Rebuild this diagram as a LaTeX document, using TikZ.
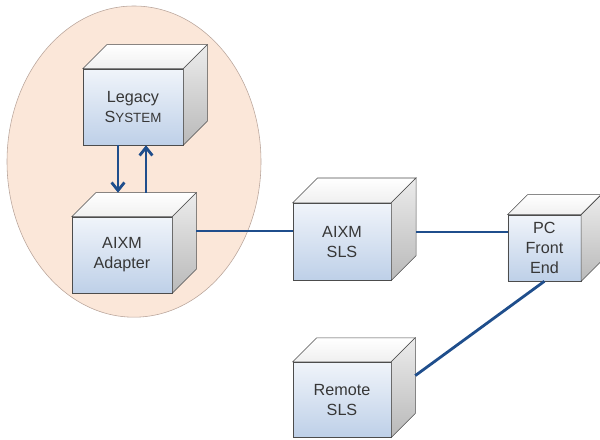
\documentclass[tikz,border=0pt]{standalone}
\usepackage{fontspec}
\setmainfont{Liberation Sans}
\usepackage{tikz}
\usetikzlibrary{arrows.meta}
\definecolor{linkblue}{RGB}{31,78,140}
\definecolor{peach}{RGB}{251,231,217}
\definecolor{rimbrown}{RGB}{185,165,155}
\definecolor{facetop}{RGB}{240,244,250}
\definecolor{facebot}{RGB}{190,208,232}
\definecolor{labelgray}{RGB}{55,55,55}

\begin{document}
\begin{tikzpicture}[
  >={Straight Barb[length=2mm, width=3.2mm]},
  cube/.style={rectangle, draw=black!70, thin, top color=facetop, bottom color=facebot,
    minimum width=2.5cm, minimum height=1.9cm, inner sep=0pt, align=center,
    text=labelgray, font=\fontsize{11.5}{14.2}\selectfont},
  topface/.style={draw=black!70, thin, top color=white, bottom color=gray!12},
  sideface/.style={draw=black!70, thin, top color=gray!15, bottom color=gray!55},
  link/.style={draw=linkblue, line width=2pt},
  flow/.style={link, ->}
]
\useasboundingbox (0,0) rectangle (15,11);

% legacy side sits inside the shaded oval
\draw[fill=peach, draw=rimbrown] (3.35,6.96) ellipse [x radius=3.175, y radius=3.89];

\node[cube] (legacy) at (3.325,8.325) {Legacy\\S{\fontsize{9.5}{14.2}\selectfont YSTEM}};
\node[cube] (adapter) at (3.05,4.625) {AIXM\\Adapter};
\node[cube, minimum width=2.45cm, minimum height=1.925cm] (sls) at (8.55,4.96) {AIXM\\SLS};
\node[cube, minimum width=1.825cm, minimum height=1.65cm] (pc) at (13.61,4.8) {PC\\Front\\End};
\node[cube, minimum width=2.45cm, minimum height=1.875cm] (remote) at (8.55,1.01) {Remote\\SLS};

% top and side faces of each box
\foreach \n/\dep in {legacy/0.6, adapter/0.6, sls/0.62, pc/0.5, remote/0.6} {
  \draw[topface] (\n.north west) -- ++(\dep,\dep) -- ([shift={(\dep,\dep)}]\n.north east)
    -- (\n.north east) -- cycle;
  \draw[sideface] (\n.north east) -- ++(\dep,\dep) -- ([shift={(\dep,\dep)}]\n.south east)
    -- (\n.south east) -- cycle;
  \coordinate (\n-rim) at ([shift={(\dep,\dep)}]\n.north);
  \coordinate (\n-side) at ([shift={(\dep,\dep)}]\n.east);
}

\coordinate (req) at ([xshift=-0.375cm]legacy.south);
\coordinate (resp) at ([xshift=0.325cm]legacy.south);
\coordinate (sls-out) at ([xshift=0.62cm, yshift=0.24cm]sls.east);

\draw[flow] (req) -- (req |- adapter-rim);
\draw[flow] (resp |- adapter-rim) -- (resp);
\draw[link] (adapter-side) -- (adapter-side -| sls.west);
\draw[link] (sls-out) -- (sls-out -| pc.west);
\draw[link] (pc.south) -- (remote-side);
\end{tikzpicture}
\end{document}
